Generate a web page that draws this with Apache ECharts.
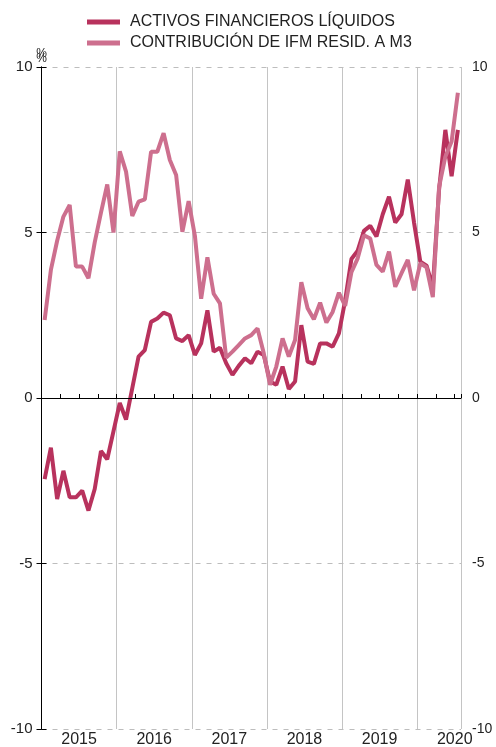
<!DOCTYPE html>
<html>
<head>
<meta charset="utf-8">
<script src="https://cdn.jsdelivr.net/npm/echarts@6/dist/echarts.min.js"></script>
<style>html,body{margin:0;padding:0;background:#fff}#c{width:496px;height:747px}</style>
</head>
<body>
<div id="c"></div>
<script>
// Monthly data, Jan 2015 - Jul 2020
var yearLabels = ['2015', '2016', '2017', '2018', '2019', '2020'];
var activos = [
  -2.45, -1.5, -3.05, -2.2, -3.0, -3.0, -2.8, -3.4, -2.75, -1.6, -1.85, -1.0,
  -0.15, -0.65, 0.3, 1.25, 1.45, 2.3, 2.4, 2.58, 2.5, 1.8, 1.72, 1.9,
  1.3, 1.65, 2.65, 1.4, 1.52, 1.05, 0.7, 0.97, 1.2, 1.05, 1.4, 1.3,
  0.5, 0.4, 0.95, 0.27, 0.5, 2.2, 1.1, 1.03, 1.65, 1.65, 1.55, 1.95,
  2.95, 4.2, 4.45, 5.05, 5.2, 4.88, 5.55, 6.08, 5.3, 5.55, 6.6, 5.3,
  4.12, 4.0, 3.35, 6.3, 8.1, 6.7, 8.1
];
var contribucion = [
  2.36, 3.87, 4.75, 5.48, 5.83, 3.97, 3.97, 3.62, 4.7, 5.6, 6.45, 5.0,
  7.45, 6.84, 5.5, 5.93, 6.0, 7.44, 7.44, 8.0, 7.19, 6.74, 5.02, 5.95,
  4.9, 3.0, 4.25, 3.15, 2.86, 1.22, 1.4, 1.6, 1.8, 1.9, 2.1, 1.35,
  0.4, 0.95, 1.8, 1.25, 1.75, 3.5, 2.71, 2.38, 2.88, 2.28, 2.6, 3.18,
  2.78, 3.8, 4.22, 4.92, 4.82, 4.02, 3.82, 4.42, 3.36, 3.77, 4.17, 3.25,
  4.07, 3.95, 3.05, 6.38, 7.29, 7.75, 9.22
];
var seriesNames = ['ACTIVOS FINANCIEROS LÍQUIDOS', 'CONTRIBUCIÓN DE IFM RESID. A M3'];

var nMonths = 67;
function toPoints(arr) {
  return arr.map(function (v, i) { return [i + 0.5, v]; });
}
var font = '"Liberation Sans", Arial, sans-serif';

var chart = echarts.init(document.getElementById('c'), null, { renderer: 'canvas' });
chart.setOption({
  animation: false,
  backgroundColor: '#fff',
  textStyle: { fontFamily: font },
  legend: {
    orient: 'vertical',
    left: 82,
    top: 9,
    itemWidth: 33,
    itemHeight: 5,
    itemGap: 5,
    icon: 'rect',
    textStyle: { fontSize: 16, color: '#222', fontFamily: font, padding: [0, 0, 0, 5] },
    data: seriesNames
  },
  grid: { left: 41.5, right: 35, top: 67, bottom: 18, containLabel: false, outerBoundsMode: 'none' },
  xAxis: [
    {
      type: 'value', min: 0, max: nMonths, interval: 3,
      axisLine: { show: true, lineStyle: { color: '#000', width: 1 } },
      axisTick: { show: true, inside: true, length: 4, lineStyle: { color: '#000' } },
      axisLabel: {
        show: true, margin: 3, fontSize: 16, color: '#222', fontFamily: font,
        showMinLabel: true, showMaxLabel: true, hideOverlap: false,
        formatter: function (v) {
          var r = Math.round(v);
          if (r % 12 === 6) { return yearLabels[(r - 6) / 12] || ''; }
          return '';
        }
      },
      splitLine: { show: false }
    },
    {
      type: 'value', min: 0, max: nMonths, interval: 12, z: -1,
      axisLine: { show: false }, axisTick: { show: false }, axisLabel: { show: false },
      splitLine: { show: true, lineStyle: { color: '#c4c4c4', width: 1 } }
    }
  ],
  yAxis: [
    {
      type: 'value', min: -10, max: 10, interval: 5, position: 'left',
      name: '%', nameLocation: 'end', nameGap: 2,
      nameTextStyle: { fontSize: 12, color: '#222', fontFamily: font },
      axisLine: { show: true, lineStyle: { color: '#000', width: 1 } },
      axisTick: { show: true, inside: true, length: 5, lineStyle: { color: '#000' } },
      axisLabel: { margin: 9, fontSize: 15, color: '#222', fontFamily: font },
      splitLine: { show: true, lineStyle: { color: '#bdbdbd', type: [5, 6], width: 1 } }
    },
    {
      type: 'value', min: -10, max: 10, interval: 5, position: 'right',
      name: '%', nameLocation: 'end', nameGap: 2,
      nameTextStyle: { fontSize: 12, color: '#222', fontFamily: font },
      axisLine: { show: true, lineStyle: { color: '#000', width: 1 } },
      axisTick: { show: true, inside: true, length: 5, lineStyle: { color: '#000' } },
      axisLabel: { margin: 11, fontSize: 14, color: '#222', fontFamily: font },
      splitLine: { show: false }
    }
  ],
  series: [
    {
      name: seriesNames[0], type: 'line', xAxisIndex: 0, yAxisIndex: 0,
      data: toPoints(activos), symbol: 'none', showSymbol: false,
      itemStyle: { color: '#b8325d' },
      lineStyle: { color: '#b8325d', width: 4 },
      markLine: {
        silent: true, symbol: 'none', label: { show: false },
        lineStyle: { color: '#000', width: 1, type: 'solid' },
        data: [{ yAxis: 0 }]
      },
      z: 3
    },
    {
      name: seriesNames[1], type: 'line', xAxisIndex: 0, yAxisIndex: 0,
      data: toPoints(contribucion), symbol: 'none', showSymbol: false,
      itemStyle: { color: '#cd6f8e' },
      lineStyle: { color: '#cd6f8e', width: 4 },
      z: 4
    }
  ]
});
</script>
</body>
</html>
